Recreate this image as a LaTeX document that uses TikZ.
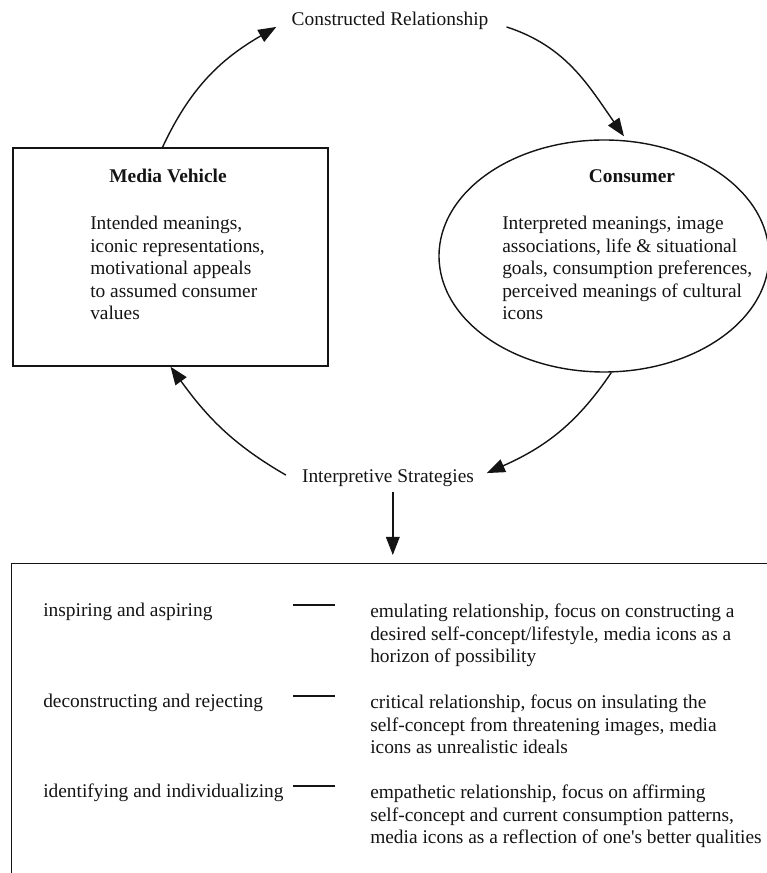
\documentclass[tikz,border=0pt]{standalone}
\usepackage{fontspec}
\setmainfont{Liberation Serif}
\usetikzlibrary{shapes.geometric,arrows.meta}
\definecolor{inkBlack}{RGB}{20,20,20}
\tikzset{
  txt/.style={font=\fontsize{13.8}{16}\selectfont, text=inkBlack},
  ttl/.style={txt, font=\fontsize{13.8}{16}\selectfont\bfseries},
  conn/.style={draw=inkBlack, line width=1pt, -{Triangle[length=0.45cm,width=0.34cm]}},
  vbox/.style={draw=inkBlack, line width=1pt, minimum width=7.875cm, minimum height=5.45cm},
  cbox/.style={draw=inkBlack, line width=1pt, ellipse, minimum width=8.25cm, minimum height=5.8cm},
  sbox/.style={draw=inkBlack, line width=1pt, minimum width=20cm, minimum height=9cm},
}

\begin{document}
\begin{tikzpicture}[x=1cm,y=1cm]
\useasboundingbox (0,0) rectangle (19.175,21.825);
\clip (0,0) rectangle (19.175,21.825);
% boxes
\node[vbox] (mv) at (4.2625,15.4) {};
\node[cbox] (cons) at (15.1,15.425) {};
\node[sbox, anchor=north west] (sb) at (0.275,7.75) {};
% titles and texts
\node[ttl, anchor=base] (mvt) at (4.2,17.25) {Media Vehicle};
\node[txt, align=left, anchor=north west, inner sep=0] (mvb) at (2.25,16.43)
  {Intended meanings,\\iconic representations,\\motivational appeals\\to assumed consumer\\values};
\node[ttl, anchor=base] (ct) at (15.8,17.25) {Consumer};
\node[txt, align=left, anchor=north west, inner sep=0] (cb) at (12.55,16.43)
  {Interpreted meanings, image\\associations, life \& situational\\goals, consumption preferences,\\perceived meanings of cultural\\icons};
\node[txt, anchor=base] (cr) at (9.75,21.175) {Constructed Relationship};
\node[txt, anchor=base] (is) at (9.7,9.75) {Interpretive Strategies};
% cycle arrows
\draw[conn] ([xshift=-0.2cm]mv.north) to[out=65,in=210] ([xshift=-0.26cm,yshift=-0.14cm]cr.west);
\draw[conn] ([xshift=0.33cm,yshift=-0.14cm]cr.east) to[out=-18,in=125] ([xshift=0.5cm,yshift=0.075cm]cons.north);
\draw[conn] ([xshift=0.18cm]cons.south) to[out=-124,in=24] ([xshift=0.2cm,yshift=0.14cm]is.east);
\draw[conn] ([xshift=-0.28cm,yshift=0.09cm]is.west) to[out=150,in=-54] (mv.south);
\draw[conn, shorten >=0.2cm] ([xshift=0.12cm]is.south) -- ([xshift=0.12cm]is.south |- sb.north);
% strategies
\foreach \y/\lt/\rt [count=\i] in {
  6.4/{inspiring and aspiring}/{emulating relationship, focus on constructing a\\desired self-concept/lifestyle, media icons as a\\horizon of possibility},
  4.125/{deconstructing and rejecting}/{critical relationship, focus on insulating the\\self-concept from threatening images, media\\icons as unrealistic ideals},
  1.875/{identifying and individualizing}/{empathetic relationship, focus on affirming\\self-concept and current consumption patterns,\\media icons as a reflection of one\textquotesingle s better qualities}}{
  \node[txt, anchor=base west, inner sep=0] (l\i) at (1.075,\y) {\lt};
  \draw[inkBlack, line width=0.8pt] (7.325,\y+0.3) -- (8.375,\y+0.3);
  \node[txt, align=left, anchor=north west, inner sep=0] (r\i) at (9.25,\y+0.33) {\rt};
}
\end{tikzpicture}
\end{document}
